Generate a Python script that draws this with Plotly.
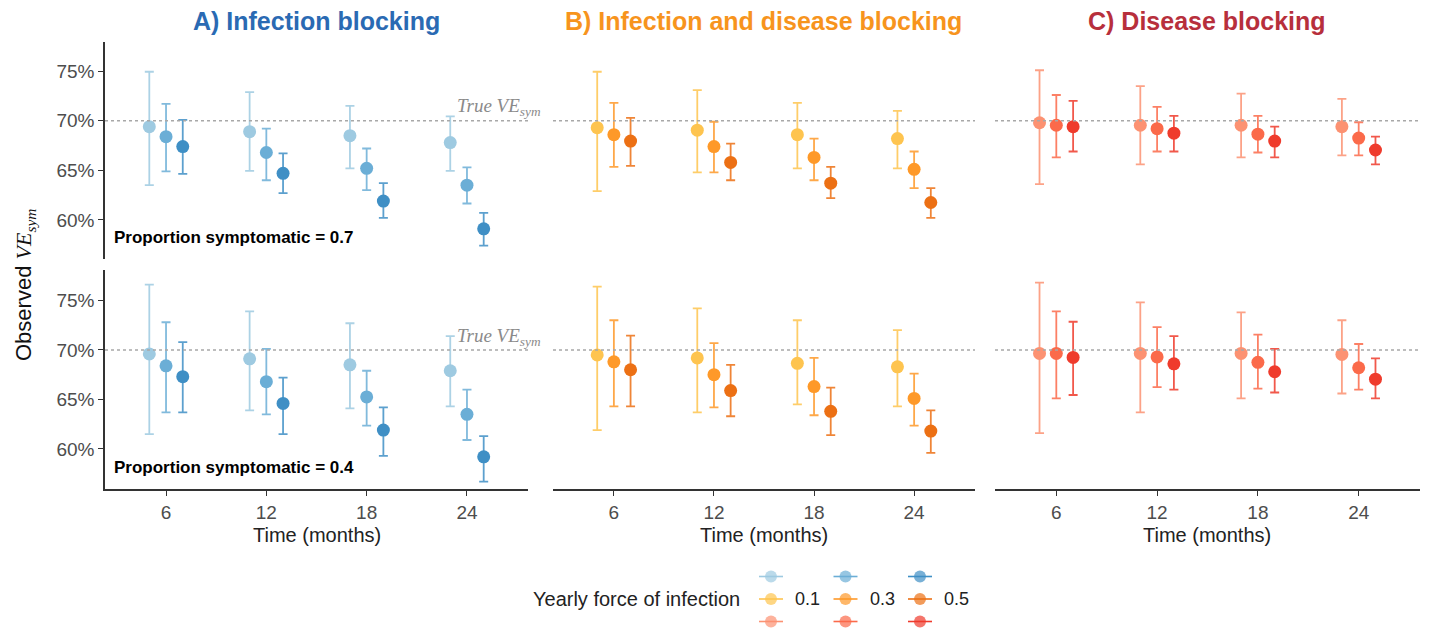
import plotly.graph_objects as go

# ---------------- data ----------------
times = [6, 12, 18, 24]
foi_labels = ["0.1", "0.3", "0.5"]
dodge = [-1, 0, 1]
scenarios = ["A) Infection blocking", "B) Infection and disease blocking", "C) Disease blocking"]
title_colors = ["#2a6ab3", "#f7941d", "#b72f3c"]
prop_sym_labels = ["Proportion symptomatic = 0.7", "Proportion symptomatic = 0.4"]
ytick_vals = [60, 65, 70, 75]
ytick_text = ["60%", "65%", "70%", "75%"]
true_ve = 70

palettes = [["#9ecae1", "#6baed6", "#3f8fc5"],
            ["#fec44f", "#fe9929", "#ec7014"],
            ["#fc9272", "#fb6a4a", "#ef3b2c"]]

# Panel A, proportion symptomatic 0.7 (rows: FOI 0.1, 0.3, 0.5; cols: 6,12,18,24 months)
A_top_est = [[69.4, 68.9, 68.5, 67.8], [68.4, 66.8, 65.2, 63.5], [67.4, 64.7, 61.9, 59.1]]
A_top_lo = [[63.5, 64.95, 65.2, 64.95], [64.9, 64.0, 63.0, 61.65], [64.65, 62.7, 60.2, 57.4]]
A_top_hi = [[74.95, 72.9, 71.5, 70.45], [71.7, 69.2, 67.2, 65.3], [70.1, 66.7, 63.7, 60.7]]
# Panel A, proportion symptomatic 0.4
A_bot_est = [[69.6, 69.1, 68.5, 67.9], [68.4, 66.8, 65.25, 63.5], [67.3, 64.6, 61.9, 59.2]]
A_bot_lo = [[61.5, 63.9, 64.1, 64.3], [63.7, 63.5, 62.35, 60.9], [63.7, 61.5, 59.3, 56.7]]
A_bot_hi = [[76.6, 73.9, 72.7, 71.4], [72.8, 70.1, 67.9, 66.0], [70.8, 67.2, 64.2, 61.3]]
# Panel B
B_top_est = [[69.3, 69.05, 68.6, 68.2], [68.6, 67.4, 66.3, 65.1], [67.95, 65.8, 63.7, 61.75]]
B_top_lo = [[62.9, 64.8, 65.2, 65.2], [65.35, 64.8, 64.0, 63.2], [65.45, 64.0, 62.2, 60.2]]
B_top_hi = [[74.95, 73.1, 71.8, 71.0], [71.8, 69.9, 68.2, 66.9], [70.3, 67.7, 65.35, 63.2]]
B_bot_est = [[69.5, 69.2, 68.65, 68.3], [68.8, 67.5, 66.3, 65.1], [68.0, 65.9, 63.8, 61.8]]
B_bot_lo = [[61.9, 63.7, 64.5, 64.3], [64.3, 64.2, 63.4, 62.35], [64.3, 63.3, 61.4, 59.6]]
B_bot_hi = [[76.4, 74.2, 73.0, 72.0], [73.0, 70.7, 69.2, 67.6], [71.45, 68.5, 66.2, 63.9]]
# Panel C
C_top_est = [[69.8, 69.55, 69.55, 69.4], [69.55, 69.2, 68.65, 68.25], [69.4, 68.75, 67.95, 67.05]]
C_top_lo = [[63.6, 65.6, 66.3, 66.5], [66.3, 66.9, 66.8, 66.5], [66.9, 66.9, 66.3, 65.6]]
C_top_hi = [[75.1, 73.5, 72.75, 72.2], [72.6, 71.4, 70.5, 69.85], [72.0, 70.5, 69.4, 68.4]]
C_bot_est = [[69.65, 69.65, 69.65, 69.55], [69.65, 69.3, 68.75, 68.2], [69.25, 68.6, 67.8, 67.05]]
C_bot_lo = [[61.6, 63.7, 65.1, 65.6], [65.1, 66.25, 66.1, 66.0], [65.45, 66.0, 65.7, 65.1]]
C_bot_hi = [[76.8, 74.8, 73.8, 73.0], [73.9, 72.3, 71.55, 70.6], [72.85, 71.4, 70.1, 69.15]]

panels = [
    [(A_top_est, A_top_lo, A_top_hi), (B_top_est, B_top_lo, B_top_hi), (C_top_est, C_top_lo, C_top_hi)],
    [(A_bot_est, A_bot_lo, A_bot_hi), (B_bot_est, B_bot_lo, B_bot_hi), (C_bot_est, C_bot_lo, C_bot_hi)],
]

# ---------------- layout geometry ----------------
W, H = 1429, 629
OFF = 8  # default page body margin in the written html


def px(x):
    return (x - OFF) / W


def py(y):
    return 1 - (y - OFF) / H


FONT = "Liberation Sans, Arial, sans-serif"
SERIF = "Liberation Serif, DejaVu Serif, serif"
x_doms = [[px(105), px(528)], [px(553), px(975)], [px(995), px(1420)]]
y_doms = [[py(259), py(42)], [py(489), py(270)]]
y_ranges = [[56.05, 77.95], [55.95, 78.08]]
x_range = [2.35, 27.65]


def hex_rgba(h, a):
    h = h.lstrip("#")
    return "rgba(%d,%d,%d,%.2f)" % (int(h[0:2], 16), int(h[2:4], 16), int(h[4:6], 16), a)


fig = go.Figure()
layout = dict(
    width=W, height=H, margin=dict(l=0, r=0, t=0, b=0),
    paper_bgcolor="white", plot_bgcolor="white", showlegend=False,
    font=dict(family=FONT, color="#222"),
)
annotations = []
shapes = []

for r in range(2):
    for c in range(3):
        k = r * 3 + c + 1
        xa = "x" if k == 1 else "x%d" % k
        ya = "y" if k == 1 else "y%d" % k
        est, lo, hi = panels[r][c]
        for i in range(3):
            col = palettes[c][i]
            xs = [t + dodge[i] for t in times]
            fig.add_trace(go.Scatter(
                x=xs, y=est[i], mode="markers", xaxis=xa, yaxis=ya,
                marker=dict(size=13, color=col, line=dict(width=0)),
                error_y=dict(type="data", symmetric=False,
                             array=[h - e for h, e in zip(hi[i], est[i])],
                             arrayminus=[e - l for e, l in zip(est[i], lo[i])],
                             color=hex_rgba(col, 0.85), thickness=1.8, width=4.5),
                cliponaxis=False,
            ))
        is_bottom = (r == 1)
        is_left = (c == 0)
        layout["xaxis" + ("" if k == 1 else str(k))] = dict(
            domain=x_doms[c], range=x_range, anchor=ya,
            showgrid=False, zeroline=False,
            showline=is_bottom, linecolor="#333", linewidth=1.5,
            ticks="outside" if is_bottom else "", ticklen=5, tickcolor="#333", tickwidth=1.2,
            tickvals=times, showticklabels=is_bottom,
            tickfont=dict(size=19, color="#4d4d4d", family=FONT),
        )
        layout["yaxis" + ("" if k == 1 else str(k))] = dict(
            domain=y_doms[r], range=y_ranges[r], anchor=xa,
            showgrid=False, zeroline=False,
            showline=is_left, linecolor="#333", linewidth=1.5,
            ticks="outside" if is_left else "", ticklen=5, tickcolor="#333", tickwidth=1.2,
            tickvals=ytick_vals, ticktext=ytick_text, showticklabels=is_left,
            tickfont=dict(size=19, color="#4d4d4d", family=FONT),
        )
        # true VE reference line
        shapes.append(dict(type="line", xref=xa + " domain", yref=ya, x0=0, x1=1,
                           y0=true_ve, y1=true_ve,
                           line=dict(color="#a8a8a8", width=1.5, dash="dot")))
        if c == 0:
            annotations.append(dict(
                xref=xa + " domain", yref=ya + " domain", x=0.017, y=0.1,
                xanchor="left", yanchor="middle", showarrow=False,
                text="<b>%s</b>" % prop_sym_labels[r], font=dict(size=17, color="black", family=FONT)))
            annotations.append(dict(
                xref=xa, yref=ya, x=23.3, y=true_ve + 1.35, xanchor="left", yanchor="middle",
                showarrow=False,
                text="<i>True VE<sub>sym</sub></i>",
                font=dict(size=19, color="#8a8a8a", family=SERIF)))
        if r == 0:
            annotations.append(dict(
                xref="paper", yref="paper", x=sum(x_doms[c]) / 2, y=py(21),
                xanchor="center", yanchor="middle", showarrow=False,
                text="<b>%s</b>" % scenarios[c], font=dict(size=25, color=title_colors[c], family=FONT)))
        if r == 1:
            annotations.append(dict(
                xref="paper", yref="paper", x=sum(x_doms[c]) / 2, y=py(535),
                xanchor="center", yanchor="middle", showarrow=False,
                text="Time (months)", font=dict(size=20, color="#222", family=FONT)))

# y-axis title
annotations.append(dict(
    xref="paper", yref="paper", x=px(25), y=py(285), xanchor="center", yanchor="middle",
    showarrow=False, textangle=-90,
    text="Observed <span style='font-family:Liberation Serif, DejaVu Serif, serif'><i>VE</i><sub><i>sym</i></sub></span>",
    font=dict(size=22, color="#111", family=FONT)))

# ---------------- legend (manual 3x3 key grid) ----------------
lx0, lx1, ly0 = 740, 1000, 559
layout["xaxis7"] = dict(domain=[px(lx0), px(lx1)], range=[lx0, lx1], visible=False, anchor="y7")
layout["yaxis7"] = dict(domain=[py(H + OFF), py(ly0)], range=[H + OFF, ly0], visible=False, anchor="x7")
key_x0, key_dx, key_y0, key_dy, key_half = 771, 74.5, 576.5, 22.5, 12
for i in range(3):
    for p in range(3):
        cx = key_x0 + i * key_dx
        cy = key_y0 + p * key_dy
        col = palettes[p][i]
        fig.add_trace(go.Scatter(
            x=[cx - key_half, cx, cx + key_half], y=[cy, cy, cy], mode="lines+markers",
            xaxis="x7", yaxis="y7", line=dict(color=col, width=1.6),
            marker=dict(size=[0, 12, 0], color=col, line=dict(width=0)), cliponaxis=False))
    annotations.append(dict(xref="x7", yref="y7", x=key_x0 + i * key_dx + 22, y=key_y0 + key_dy,
                            xanchor="left", yanchor="middle", showarrow=False,
                            text=foi_labels[i], font=dict(size=18, color="#222", family=FONT)))
annotations.append(dict(xref="paper", yref="paper", x=px(742), y=py(599),
                        xanchor="right", yanchor="middle", showarrow=False,
                        text="Yearly force of infection", font=dict(size=20, color="#222", family=FONT)))

layout["annotations"] = annotations
layout["shapes"] = shapes
fig.update_layout(**layout)
fig.write_html("out.html")
